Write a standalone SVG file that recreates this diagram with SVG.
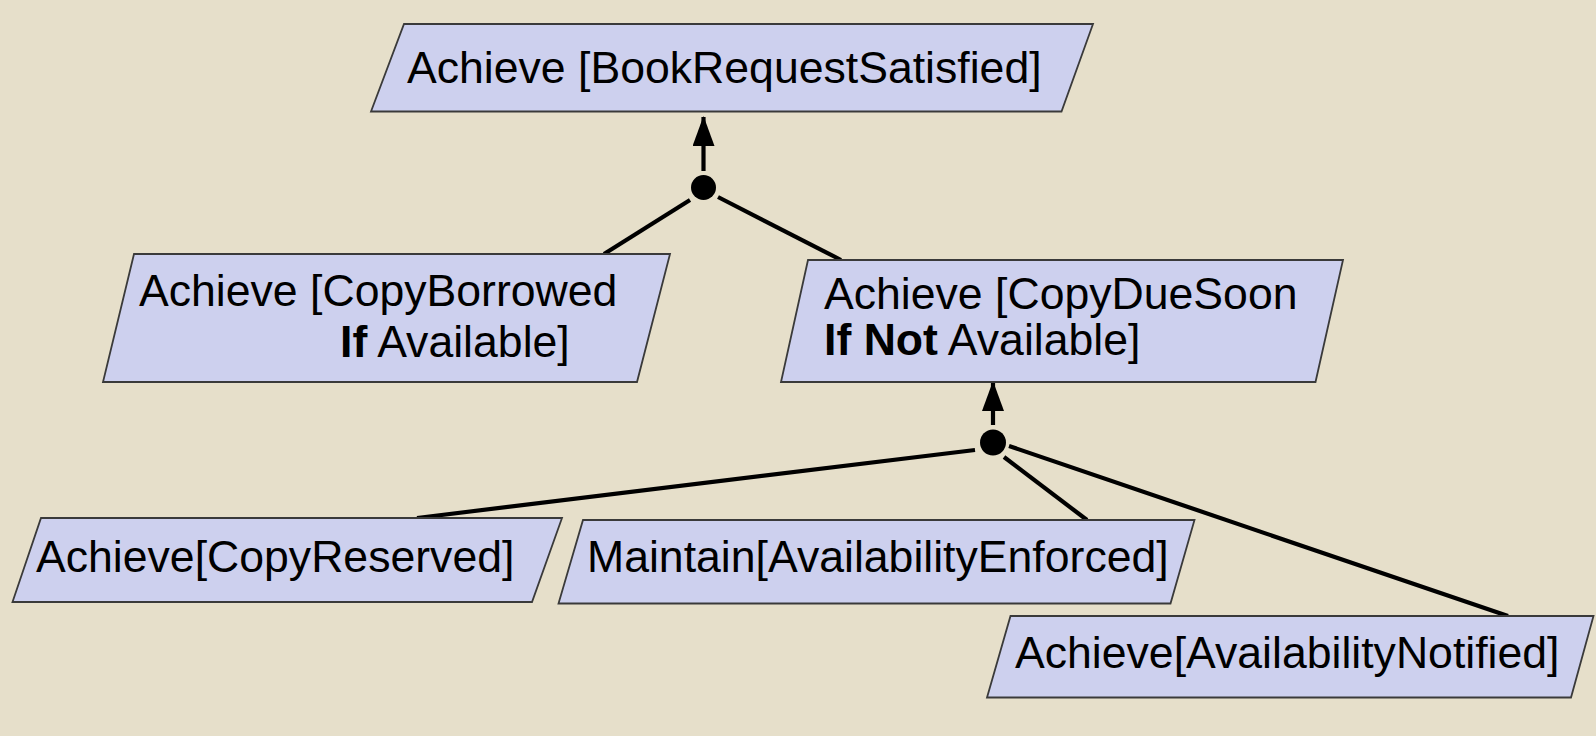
<svg xmlns="http://www.w3.org/2000/svg" width="1596" height="736" viewBox="0 0 1596 736">
<style>
.node{fill:#cdd0ee;stroke:#3a3a3a;stroke-width:1.8}
.t{font-family:"Liberation Sans",Arial,sans-serif;font-size:44.6px;fill:#000}
.b{font-weight:bold}
.c{stroke:#000;stroke-width:4.2;fill:none}
</style>
<defs>
<marker id="arr" markerWidth="30" markerHeight="22" refX="29" refY="11" orient="auto" markerUnits="userSpaceOnUse" viewBox="0 0 30 22">
<path d="M0,0 L30,11 L0,22 Z" fill="#000"/>
</marker>
</defs>
<rect x="0" y="0" width="1596" height="736" fill="#e6dfca"/>
<g id="connectors">
<line class="c" x1="703.5" y1="171" x2="703.5" y2="117" marker-end="url(#arr)"/>
<circle cx="703.5" cy="187.5" r="12.5" fill="#000"/>
<line class="c" x1="690" y1="200" x2="604" y2="254"/>
<line class="c" x1="718" y1="197" x2="841" y2="260"/>
<line class="c" x1="993" y1="425" x2="993" y2="382" marker-end="url(#arr)"/>
<circle cx="993" cy="442.5" r="13" fill="#000"/>
<line class="c" x1="975" y1="450" x2="417" y2="518"/>
<line class="c" x1="1004" y1="457" x2="1087" y2="520"/>
<line class="c" x1="1009" y1="446" x2="1508" y2="616"/>
</g>
<g id="n-book">
<polygon class="node" points="404,24 1093,24 1061.5,111.5 371,111.5"/>
<text class="t" x="407" y="83">Achieve [BookRequestSatisfied]</text>
</g>
<g id="n-borrowed">
<polygon class="node" points="134,254 670,254 637,382 103,382"/>
<text class="t" x="139" y="306">Achieve [CopyBorrowed</text>
<text class="t" x="340" y="357"><tspan class="b">If</tspan> Available]</text>
</g>
<g id="n-duesoon">
<polygon class="node" points="808,260 1343,260 1315.5,382 781,382"/>
<text class="t" x="824" y="309">Achieve [CopyDueSoon</text>
<text class="t" x="824" y="355"><tspan class="b">If Not</tspan> Available]</text>
</g>
<g id="n-reserved">
<polygon class="node" points="41,518 562,518 532,602 12.5,602"/>
<text class="t" x="36" y="572">Achieve[CopyReserved]</text>
</g>
<g id="n-enforced">
<polygon class="node" points="583,520 1194.5,520 1170.5,603.5 558.5,603.5"/>
<text class="t" x="587" y="572">Maintain[AvailabilityEnforced]</text>
</g>
<g id="n-notified">
<polygon class="node" points="1010.5,616 1593.5,616 1571,697.5 987,697.5"/>
<text class="t" x="1015" y="668">Achieve[AvailabilityNotified]</text>
</g>
</svg>
